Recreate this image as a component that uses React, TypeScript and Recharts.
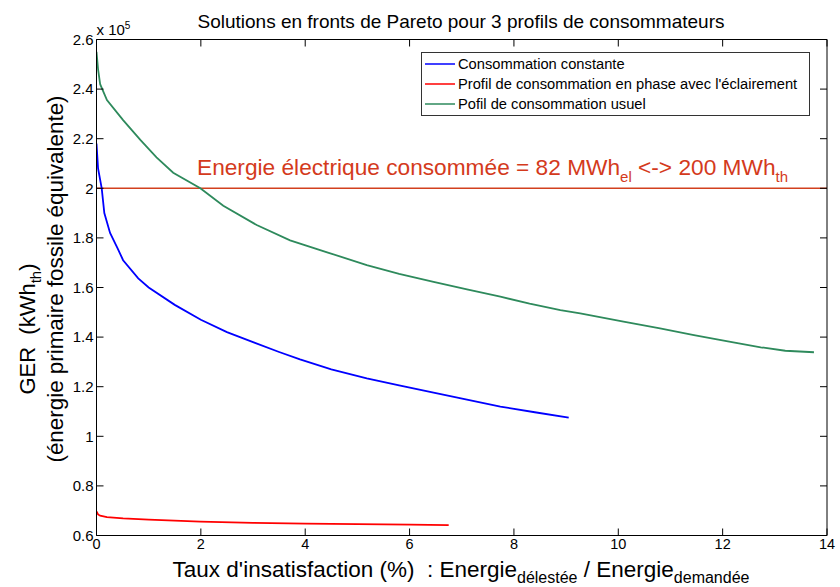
import React from 'react';
import { LineChart, Line, XAxis, YAxis, ReferenceLine, Legend } from 'recharts';

const FONT = '"Liberation Sans", Arial, sans-serif';

const xTicks = [0, 2, 4, 6, 8, 10, 12, 14];
const yTicks = [0.6, 0.8, 1, 1.2, 1.4, 1.6, 1.8, 2, 2.2, 2.4, 2.6];

const seriesNames = [
  'Consommation constante',
  "Profil de consommation en phase avec l'éclairement",
  'Pofil de consommation usuel',
];
const seriesColors = ['#0000ff', '#ff0000', '#2e8a5c'];

// values in units of 10^5 kWh_th
const constanteX = [0, 0.03, 0.1, 0.15, 0.26, 0.4, 0.51, 0.8, 1.0, 1.5, 2.0, 2.5, 3.0, 3.5, 3.9, 4.5, 5.18, 5.8, 6.46, 7.1, 7.74, 8.4, 9.05];
const constanteY = [2.18, 2.08, 2.0, 1.9, 1.82, 1.76, 1.71, 1.637, 1.6, 1.53, 1.47, 1.42, 1.38, 1.34, 1.31, 1.27, 1.234, 1.205, 1.176, 1.148, 1.12, 1.097, 1.075];

const phaseX = [0, 0.03, 0.07, 0.2, 0.51, 1.0, 1.99, 3.0, 4.0, 5.0, 6.01, 6.75];
const phaseY = [0.697, 0.685, 0.68, 0.674, 0.669, 0.664, 0.656, 0.651, 0.648, 0.646, 0.644, 0.642];

const usuelX = [0, 0.03, 0.07, 0.2, 0.51, 0.84, 1.15, 1.47, 1.99, 2.43, 3.07, 3.71, 4.42, 5.18, 5.8, 6.46, 7.1, 7.74, 8.3, 8.89, 9.27, 10.1, 10.8, 11.45, 12.1, 12.73, 13.2, 13.75];
const usuelY = [2.55, 2.48, 2.42, 2.356, 2.275, 2.195, 2.125, 2.063, 2.0, 1.93, 1.852, 1.79, 1.742, 1.69, 1.655, 1.623, 1.592, 1.563, 1.535, 1.509, 1.496, 1.462, 1.435, 1.408, 1.383, 1.359, 1.345, 1.339];

const referenceValue = 2.0;

const toPoints = (xs: number[], ys: number[]) => xs.map((x, i) => ({ x, y: ys[i] }));
const seriesData = [
  toPoints(constanteX, constanteY),
  toPoints(phaseX, phaseY),
  toPoints(usuelX, usuelY),
];

const renderTitle = () => (
  <text x={461} y={28} textAnchor="middle" fontSize={19} fontFamily={FONT} fill="#000">
    Solutions en fronts de Pareto pour 3 profils de consommateurs
  </text>
);

const renderXLabel = () => (
  <text x={461} y={577} textAnchor="middle" fontSize={22.5} fontFamily={FONT} fill="#000">
    {"Taux d'insatisfaction (%)\u00a0\u00a0: Energie"}
    <tspan fontSize={16} dy={6}>délestée</tspan>
    <tspan dy={-6}>{'\u00a0/ Energie'}</tspan>
    <tspan fontSize={16} dy={6}>demandée</tspan>
  </text>
);

const renderYLabel = () => (
  <g fontFamily={FONT} fill="#000">
    <text x={35} y={329} transform="rotate(-90, 35, 329)" textAnchor="middle" fontSize={22}>
      {'GER\u00a0\u00a0(kWh'}
      <tspan fontSize={15} dy={6}>th</tspan>
      <tspan dy={-6}>)</tspan>
    </text>
    <text x={63} y={279} transform="rotate(-90, 63, 279)" textAnchor="middle" fontSize={22.4}>
      (énergie primaire fossile équivalente)
    </text>
    <text x={96.5} y={35} fontSize={15}>
      x 10<tspan fontSize={10} dy={-6}>5</tspan>
    </text>
  </g>
);

const renderAnnotation = () => (
  <text x={197} y={175} fontSize={22.7} fontFamily={FONT} fill="#d43a1c">
    {'Energie électrique consommée = 82 MWh'}
    <tspan fontSize={15} dy={7}>el</tspan>
    <tspan dy={-7}>{'\u00a0<-> 200 MWh'}</tspan>
    <tspan fontSize={15} dy={7}>th</tspan>
  </text>
);

const renderLegend = (props: any) => {
  const payload: any[] = props.payload || [];
  const items = seriesNames.map((name, i) => {
    const found = payload.find((p) => p.value === name);
    return { name, color: found ? found.color : seriesColors[i] };
  });
  return (
    <div
      style={{
        border: '1px solid #333',
        background: '#fff',
        boxSizing: 'border-box',
        width: 389,
        height: 64,
        paddingTop: 1,
        fontFamily: FONT,
        fontSize: 14.7,
        color: '#000',
      }}
    >
      {items.map((it) => (
        <div key={it.name} style={{ display: 'flex', alignItems: 'center', height: 20, lineHeight: '20px', whiteSpace: 'nowrap' }}>
          <svg width={36} height={20} style={{ display: 'block' }}>
            <line x1={3} y1={10} x2={33} y2={10} stroke={it.color} strokeWidth={1.5} />
          </svg>
          <span>{it.name}</span>
        </div>
      ))}
    </div>
  );
};

export default function App() {
  return (
    <div style={{ position: 'absolute', left: 0, top: 0, width: 840, height: 587, background: '#fff' }}>
      <LineChart width={840} height={587} margin={{ top: 38.5, right: 12, bottom: 21.5, left: 56.5 }} style={{ fontFamily: FONT }}>
        <XAxis
          xAxisId="b"
          type="number"
          dataKey="x"
          domain={[0, 14]}
          ticks={xTicks}
          interval={0}
          allowDataOverflow
          orientation="bottom"
          height={30}
          tickSize={-7}
          tickMargin={10}
          stroke="#000"
          tickLine={{ stroke: '#000' }}
          tick={{ fill: '#000', fontSize: 14.5, fontFamily: FONT }}
          label={renderXLabel}
        />
        <XAxis
          xAxisId="t"
          type="number"
          dataKey="x"
          domain={[0, 14]}
          ticks={xTicks}
          interval={0}
          allowDataOverflow
          orientation="top"
          height={1}
          tickSize={-7}
          tickFormatter={() => ''}
          stroke="#000"
          tickLine={{ stroke: '#000' }}
          label={renderTitle}
        />
        <YAxis
          yAxisId="l"
          type="number"
          domain={[0.6, 2.6]}
          ticks={yTicks}
          interval={0}
          allowDataOverflow
          width={40}
          tickSize={-7}
          tickMargin={10}
          stroke="#000"
          tickLine={{ stroke: '#000' }}
          tick={{ fill: '#000', fontSize: 15, fontFamily: FONT }}
          label={renderYLabel}
        />
        <YAxis
          yAxisId="r"
          orientation="right"
          type="number"
          domain={[0.6, 2.6]}
          ticks={yTicks}
          interval={0}
          allowDataOverflow
          width={1}
          tickSize={-7}
          tickFormatter={() => ''}
          stroke="#000"
          tickLine={{ stroke: '#000' }}
        />
        <ReferenceLine
          xAxisId="b"
          yAxisId="l"
          y={referenceValue}
          stroke="#d2401e"
          strokeWidth={1.6}
          label={renderAnnotation}
        />
        {seriesData.map((d, i) => (
          <Line
            key={seriesNames[i]}
            xAxisId="b"
            yAxisId="l"
            data={d}
            dataKey="y"
            name={seriesNames[i]}
            type="linear"
            stroke={seriesColors[i]}
            strokeWidth={1.8}
            dot={false}
            activeDot={false}
            isAnimationActive={false}
          />
        ))}
        <Legend
          content={renderLegend}
          layout="vertical"
          align="center"
          verticalAlign="middle"
          wrapperStyle={{ left: 421, top: 52, width: 389, height: 64 }}
        />
      </LineChart>
    </div>
  );
}
